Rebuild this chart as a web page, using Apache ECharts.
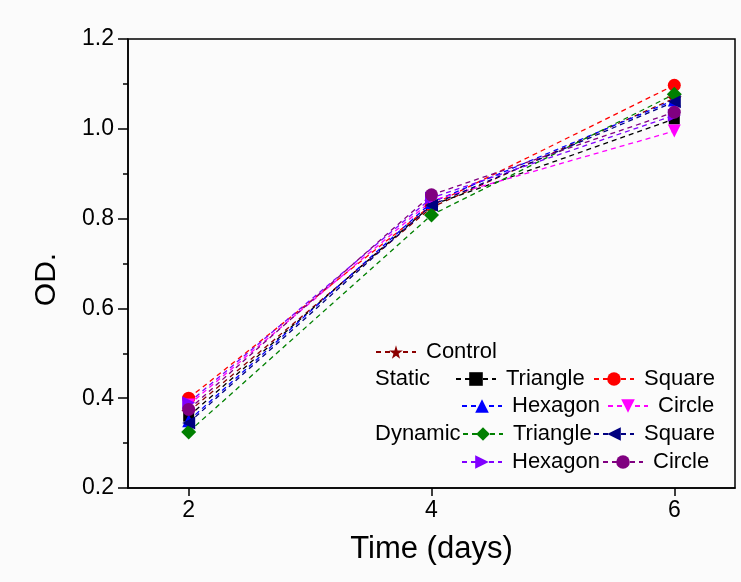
<!DOCTYPE html>
<html>
<head>
<meta charset="utf-8">
<script src="https://cdn.jsdelivr.net/npm/echarts@6/dist/echarts.min.js"></script>
<style>
html,body{margin:0;padding:0;background:#fbfbfb;}
#main{width:741px;height:582px;}
</style>
</head>
<body>
<div id="main"></div>
<script>
// ---- data ----
var days = [2, 4, 6];
var yTicks = [0.2, 0.4, 0.6, 0.8, 1.0, 1.2];
var control          = [0.370, 0.825, 1.068];
var staticTriangle   = [0.360, 0.830, 1.022];
var staticSquare     = [0.400, 0.830, 1.097];
var staticHexagon    = [0.350, 0.836, 1.064];
var staticCircle     = [0.385, 0.840, 0.995];
var dynamicTriangle  = [0.325, 0.808, 1.077];
var dynamicSquare    = [0.345, 0.830, 1.060];
var dynamicHexagon   = [0.390, 0.846, 1.030];
var dynamicCircle    = [0.375, 0.853, 1.037];

var STAR = 'path://M50,0 L61,35 L98,35 L68,57 L79,91 L50,70 L21,91 L32,57 L2,35 L39,35 Z';
var DOWN = 'path://M0,0 L10,0 L5,9 Z';
var LEFT = 'path://M0,5 L9,0 L9,10 Z';
var RIGHT = 'path://M0,0 L9,5 L0,10 Z';

var defs = [
  {name:'Control', data:control, color:'#8B0000', symbol:STAR, size:15},
  {name:'Static Triangle', data:staticTriangle, color:'#000000', symbol:'rect', size:11},
  {name:'Static Square', data:staticSquare, color:'#FF0000', symbol:'circle', size:13},
  {name:'Static Hexagon', data:staticHexagon, color:'#0000FF', symbol:'triangle', size:13},
  {name:'Static Circle', data:staticCircle, color:'#FF00FF', symbol:DOWN, size:13},
  {name:'Dynamic Triangle', data:dynamicTriangle, color:'#008000', symbol:'diamond', size:15},
  {name:'Dynamic Square', data:dynamicSquare, color:'#000080', symbol:LEFT, size:13},
  {name:'Dynamic Hexagon', data:dynamicHexagon, color:'#8000FF', symbol:RIGHT, size:13},
  {name:'Dynamic Circle', data:dynamicCircle, color:'#800080', symbol:'circle', size:13}
];

var series = defs.map(function(d){
  return {
    name: d.name, type:'line',
    data: days.map(function(x,i){ return [x, d.data[i]]; }),
    symbol: d.symbol, symbolSize: d.size, showSymbol:true,
    itemStyle:{color:d.color},
    lineStyle:{color:d.color, width:1.3, type:[5,4]},
    animation:false, z: 2
  };
});

// legend layout: [name, left, rowCenter]
var legendPos = [
  ['Control', 375, 352],
  ['Static Triangle', 455, 379], ['Static Square', 593, 379],
  ['Static Hexagon', 461, 406], ['Static Circle', 607, 406],
  ['Dynamic Triangle', 462, 434], ['Dynamic Square', 593, 434],
  ['Dynamic Hexagon', 461, 462], ['Dynamic Circle', 602, 462]
];
var FONT = '"Liberation Sans", Arial, sans-serif';
var LFS = 22;
var legends = legendPos.map(function(p){
  return {
    data:[p[0]], left:p[1], top:p[2]-11, padding:0,
    itemWidth:40, itemHeight:17, itemGap:0,
    formatter:function(n){ return n.replace(/^(Static|Dynamic) /,''); },
    textStyle:{fontFamily:FONT, fontSize:LFS, color:'#000', padding:[0,0,0,5]},
    selectedMode:false
  };
});

var chart = echarts.init(document.getElementById('main'));
chart.setOption({
  backgroundColor:'#fbfbfb',
  animation:false,
  grid:{left:128, right:6, top:39, bottom:94, show:true, borderColor:'#000', borderWidth:1.5, backgroundColor:'transparent'},
  legend: legends,
  graphic:[
    {type:'text', left:375, top:368, style:{text:'Static', font:LFS+'px "Liberation Sans", Arial, sans-serif', fill:'#000'}},
    {type:'text', left:375, top:423, style:{text:'Dynamic', font:LFS+'px "Liberation Sans", Arial, sans-serif', fill:'#000'}}
  ],
  xAxis:{
    type:'value', min:1.5, max:6.5,
    name:'Time (days)', nameLocation:'middle', nameGap:46,
    nameTextStyle:{fontFamily:FONT, fontSize:31, color:'#000'},
    axisLine:{show:true, onZero:false, lineStyle:{color:'#000', width:1.5}},
    axisTick:{show:true, inside:false, length:8, customValues:days, lineStyle:{color:'#000', width:1.5}},
    axisLabel:{customValues:days, fontFamily:FONT, fontSize:23, color:'#000', margin:11},
    splitLine:{show:false}
  },
  yAxis:{
    type:'value', min:0.2, max:1.2, interval:0.2,
    name:'OD.', nameLocation:'middle', nameGap:66, nameRotate:90,
    nameTextStyle:{fontFamily:FONT, fontSize:30, color:'#000', padding:[0,32,0,0]},
    axisLine:{show:true, onZero:false, lineStyle:{color:'#000', width:1.5}},
    axisTick:{show:true, inside:false, length:10, lineStyle:{color:'#000', width:1.5}},
    minorTick:{show:true, splitNumber:2, length:5, lineStyle:{color:'#000', width:1.5}},
    axisLabel:{fontFamily:FONT, fontSize:23, color:'#000', margin:14,
      formatter:function(v){ return v.toFixed(1); }},
    splitLine:{show:false}
  },
  series: series
});
</script>
</body>
</html>
